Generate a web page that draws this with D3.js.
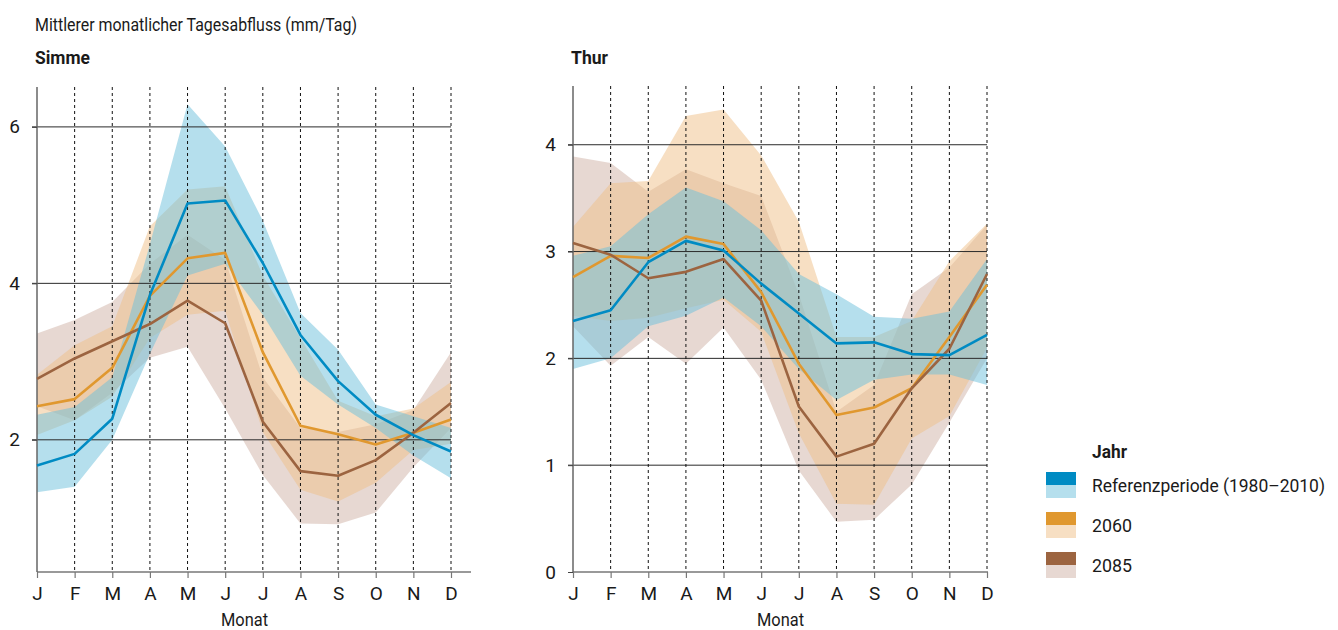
<!DOCTYPE html>
<html lang="de">

<head>
    <meta charset="UTF-8">
    <title>Tagesabfluss</title>
    <script src="https://cdn.jsdelivr.net/npm/d3@7"></script>
    <style>
        body {
            margin: 0;
            background: #fff;
        }

        svg text {
            font-family: Roboto, "Open Sans", sans-serif;
            fill: #1a1a1a;
        }
    </style>
</head>

<body>
    <div id="box"></div>

    <script>
        const months = ['J', 'F', 'M', 'A', 'M', 'J', 'J', 'A', 'S', 'O', 'N', 'D']

        // Simme
        const simmeRef = [1.67, 1.82, 2.27, 3.85, 5.02, 5.06, 4.26, 3.34, 2.75, 2.32, 2.06, 1.85]
        const simmeRefHi = [2.32, 2.42, 2.80, 4.50, 6.29, 5.75, 4.80, 3.62, 3.15, 2.45, 2.30, 2.15]
        const simmeRefLo = [1.33, 1.40, 2.00, 3.10, 4.10, 4.25, 3.60, 2.82, 2.45, 2.15, 1.80, 1.51]
        const simme2060 = [2.43, 2.52, 2.92, 3.84, 4.32, 4.39, 3.12, 2.18, 2.07, 1.94, 2.09, 2.26]
        const simme2060Hi = [2.83, 3.21, 3.45, 4.73, 5.20, 5.24, 4.10, 3.30, 2.50, 2.30, 2.40, 2.74]
        const simme2060Lo = [2.06, 2.25, 2.55, 3.30, 3.60, 3.65, 2.10, 1.36, 1.21, 1.45, 1.87, 1.95]
        const simme2085 = [2.78, 3.04, 3.26, 3.48, 3.78, 3.49, 2.23, 1.60, 1.54, 1.74, 2.09, 2.47]
        const simme2085Hi = [3.36, 3.53, 3.76, 4.25, 4.62, 4.30, 2.80, 2.15, 2.10, 2.20, 2.38, 3.12]
        const simme2085Lo = [2.43, 2.25, 2.60, 3.05, 3.19, 2.40, 1.55, 0.93, 0.92, 1.07, 1.65, 2.15]
        const simmeTicks = [2, 4, 6]

        // Thur
        const thurRef = [2.35, 2.45, 2.90, 3.10, 3.01, 2.70, 2.42, 2.14, 2.15, 2.04, 2.03, 2.22]
        const thurRefHi = [2.96, 3.05, 3.35, 3.60, 3.47, 3.20, 2.79, 2.60, 2.39, 2.37, 2.44, 2.93]
        const thurRefLo = [1.90, 2.00, 2.30, 2.40, 2.57, 2.30, 1.90, 1.61, 1.80, 1.85, 1.85, 1.75]
        const thur2060 = [2.76, 2.96, 2.94, 3.14, 3.07, 2.62, 1.95, 1.47, 1.54, 1.72, 2.20, 2.69]
        const thur2060Hi = [3.23, 3.64, 3.66, 4.27, 4.33, 3.90, 3.28, 2.20, 2.20, 2.35, 2.91, 3.26]
        const thur2060Lo = [2.40, 2.35, 2.38, 2.47, 2.55, 2.25, 1.30, 0.64, 0.63, 1.25, 1.46, 2.10]
        const thur2085 = [3.08, 2.97, 2.75, 2.81, 2.93, 2.54, 1.55, 1.08, 1.20, 1.72, 2.09, 2.79]
        const thur2085Hi = [3.89, 3.83, 3.56, 3.77, 3.64, 3.52, 2.60, 1.50, 1.75, 2.60, 2.85, 3.25]
        const thur2085Lo = [2.30, 1.93, 2.20, 1.95, 2.29, 1.80, 0.95, 0.47, 0.49, 0.82, 1.40, 2.00]
        const thurTicks = [0, 1, 2, 3, 4]

        const legendLabels = ['Referenzperiode (1980\u20132010)', '2060', '2085']
        const lineColors = ['#008bc3', '#e0982f', '#9c6440']
        const bandColors = ['#6cc0dc', '#efc088', '#cfb1a6']

        const W = 1338,
            H = 630

        const svg = d3.select('#box').append('svg')
            .attr('width', W)
            .attr('height', H)

        // schmale Schrift nachbilden: Breite per textLength
        function label(sel, x, y, txt, size, len, bold) {
            const t = sel.append('text')
                .attr('x', x).attr('y', y)
                .style('font-size', size + 'px')
                .style('font-weight', bold ? 'bold' : 'normal')
                .text(txt)
            if (len) t.attr('textLength', len).attr('lengthAdjust', 'spacingAndGlyphs')
            return t
        }

        label(svg, 35, 31, 'Mittlerer monatlicher Tagesabfluss (mm/Tag)', 19, 322)

        function drawPanel(opt) {
            const g = svg.append('g')
            const x = d3.scalePoint().domain(d3.range(12)).range([opt.x0, opt.x0 + 414])
            const y = d3.scaleLinear().domain(opt.yDomain).range([572, opt.yTop])
            const x0 = opt.x0,
                x1 = opt.x0 + 414

            label(g, opt.x0 - 2, 64, opt.title, 19, opt.titleLen, true)

            const area = d3.area()
                .x((d, i) => x(i))
                .y0(d => y(d[0]))
                .y1(d => y(d[1]))

            const line = d3.line()
                .x((d, i) => x(i))
                .y(d => y(d))

            // Bänder: 2085, 2060, Referenz
            const order = [2, 1, 0]
            order.forEach(k => {
                const s = opt.series[k]
                g.append('path')
                    .attr('d', area(s.lo.map((v, i) => [v, s.hi[i]])))
                    .attr('fill', bandColors[k])
                    .attr('fill-opacity', 0.5)
            })

            // horizontale Gitterlinien
            g.selectAll('.grid').data(opt.ticks.filter(t => t > 0)).enter().append('line')
                .attr('x1', x0 - 5).attr('x2', x1)
                .attr('y1', d => y(d)).attr('y2', d => y(d))
                .attr('stroke', '#2a2a2a').attr('stroke-width', 1)

            // gestrichelte Monatslinien
            g.selectAll('.vgrid').data(d3.range(1, 12)).enter().append('line')
                .attr('x1', d => x(d)).attr('x2', d => x(d))
                .attr('y1', opt.yTop).attr('y2', 572)
                .attr('stroke', '#111').attr('stroke-width', 1)
                .attr('stroke-dasharray', '3,3')

            // Achsen
            const xAxis = g.append('g')
                .attr('transform', 'translate(0,572)')
                .call(d3.axisBottom(x).tickSize(6).tickPadding(9).tickFormat(i => months[i]))
            xAxis.select('.domain').attr('d', `M${x0},0H${opt.xAxisEnd}`).attr('stroke', '#777').attr('stroke-width', 1.5)
            xAxis.selectAll('.tick line').attr('stroke', '#777').attr('stroke-width', 1.2)
            xAxis.selectAll('.tick text').style('font-size', '19px').style('font-family', null).attr('fill', '#1a1a1a')

            const yAxis = g.append('g')
                .attr('transform', `translate(${x0},0)`)
                .call(d3.axisLeft(y).tickValues(opt.ticks).tickSize(5).tickPadding(12).tickFormat(d3.format('d')))
            yAxis.select('.domain').attr('d', `M0,${opt.yTop}V572`).attr('stroke', '#666').attr('stroke-width', 1.5)
            yAxis.selectAll('.tick line').attr('stroke', '#444')
            yAxis.selectAll('.tick text').style('font-size', '19px').style('font-family', null).attr('fill', '#1a1a1a')

            label(g, (x0 + x1) / 2 - 23, 626, 'Monat', 18, 47)

            // Linien
            const lineOrder = [1, 2, 0]
            lineOrder.forEach(k => {
                g.append('path')
                    .attr('d', line(opt.series[k].mid))
                    .attr('fill', 'none')
                    .attr('stroke', lineColors[k])
                    .attr('stroke-width', 2.6)
                    .attr('stroke-linejoin', 'round')
            })
        }

        drawPanel({
            title: 'Simme',
            titleLen: 55,
            x0: 37,
            xAxisEnd: 471,
            yTop: 87,
            yDomain: [0.31, 6.51],
            ticks: simmeTicks,
            series: [{
                mid: simmeRef,
                hi: simmeRefHi,
                lo: simmeRefLo
            }, {
                mid: simme2060,
                hi: simme2060Hi,
                lo: simme2060Lo
            }, {
                mid: simme2085,
                hi: simme2085Hi,
                lo: simme2085Lo
            }]
        })

        drawPanel({
            title: 'Thur',
            titleLen: 37,
            x0: 573,
            xAxisEnd: 988,
            yTop: 86,
            yDomain: [0, 4.55],
            ticks: thurTicks,
            series: [{
                mid: thurRef,
                hi: thurRefHi,
                lo: thurRefLo
            }, {
                mid: thur2060,
                hi: thur2060Hi,
                lo: thur2060Lo
            }, {
                mid: thur2085,
                hi: thur2085Hi,
                lo: thur2085Lo
            }]
        })

        // Legende
        const leg = svg.append('g').attr('transform', 'translate(1046,0)')
        label(leg, 46, 458, 'Jahr', 19, 35, true)

        legendLabels.forEach((lab, k) => {
            const yy = 472 + k * 40
            leg.append('rect').attr('x', 0).attr('y', yy).attr('width', 30).attr('height', 13)
                .attr('fill', lineColors[k])
            leg.append('rect').attr('x', 0).attr('y', yy + 13).attr('width', 30).attr('height', 13)
                .attr('fill', bandColors[k]).attr('fill-opacity', 0.5)
            label(leg, 46, yy + 20, lab, 19, k === 0 ? 233 : 40)
        })
    </script>
</body>

</html>
